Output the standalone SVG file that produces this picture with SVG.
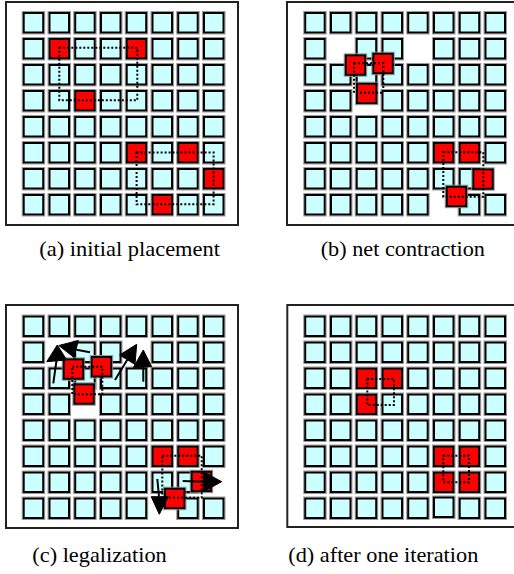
<svg xmlns="http://www.w3.org/2000/svg" xmlns:xlink="http://www.w3.org/1999/xlink" width="514" height="574" viewBox="0 0 514 574">
<style>
.frame{fill:#fff;stroke:#222;stroke-width:2}
.cy{fill:#ccffff}
.rd{fill:#ff0000}
.net{fill:none;stroke:#000;stroke-width:2;stroke-dasharray:2 2}
.shaft{stroke:#000;stroke-width:2;fill:none}
.head{fill:#000;stroke:#000;stroke-width:1;stroke-linejoin:round}
text{font-family:"Liberation Serif","DejaVu Serif",serif;font-size:22px;fill:#000}
</style>
<defs>
<g id="cell">
<rect x="-0.5" y="-0.5" width="22.5" height="22.5" fill="none" stroke="#9a9a9a" stroke-width="1"/>
<rect x="1" y="1" width="19.5" height="19.5" stroke="#000" stroke-width="2"/>
</g>
</defs>
<rect width="514" height="574" fill="#fff"/>

<!-- Panel A -->
<g id="panel-a">
<rect class="frame" x="6" y="2" width="232" height="223"/>
<g id="cells-a" class="cy">
<use xlink:href="#cell" x="22.7" y="12"/><use xlink:href="#cell" x="48.5" y="12"/><use xlink:href="#cell" x="74.2" y="12"/><use xlink:href="#cell" x="100" y="12"/><use xlink:href="#cell" x="125.7" y="12"/><use xlink:href="#cell" x="151.5" y="12"/><use xlink:href="#cell" x="177.2" y="12"/><use xlink:href="#cell" x="203" y="12"/>
<use xlink:href="#cell" x="22.7" y="38"/><use xlink:href="#cell" x="74.2" y="38"/><use xlink:href="#cell" x="100" y="38"/><use xlink:href="#cell" x="151.5" y="38"/><use xlink:href="#cell" x="177.2" y="38"/><use xlink:href="#cell" x="203" y="38"/>
<use xlink:href="#cell" x="22.7" y="64"/><use xlink:href="#cell" x="48.5" y="64"/><use xlink:href="#cell" x="74.2" y="64"/><use xlink:href="#cell" x="100" y="64"/><use xlink:href="#cell" x="125.7" y="64"/><use xlink:href="#cell" x="151.5" y="64"/><use xlink:href="#cell" x="177.2" y="64"/><use xlink:href="#cell" x="203" y="64"/>
<use xlink:href="#cell" x="22.7" y="90"/><use xlink:href="#cell" x="48.5" y="90"/><use xlink:href="#cell" x="100" y="90"/><use xlink:href="#cell" x="125.7" y="90"/><use xlink:href="#cell" x="151.5" y="90"/><use xlink:href="#cell" x="177.2" y="90"/><use xlink:href="#cell" x="203" y="90"/>
<use xlink:href="#cell" x="22.7" y="116"/><use xlink:href="#cell" x="48.5" y="116"/><use xlink:href="#cell" x="74.2" y="116"/><use xlink:href="#cell" x="100" y="116"/><use xlink:href="#cell" x="125.7" y="116"/><use xlink:href="#cell" x="151.5" y="116"/><use xlink:href="#cell" x="177.2" y="116"/><use xlink:href="#cell" x="203" y="116"/>
<use xlink:href="#cell" x="22.7" y="142"/><use xlink:href="#cell" x="48.5" y="142"/><use xlink:href="#cell" x="74.2" y="142"/><use xlink:href="#cell" x="100" y="142"/><use xlink:href="#cell" x="151.5" y="142"/><use xlink:href="#cell" x="203" y="142"/>
<use xlink:href="#cell" x="22.7" y="168"/><use xlink:href="#cell" x="48.5" y="168"/><use xlink:href="#cell" x="74.2" y="168"/><use xlink:href="#cell" x="100" y="168"/><use xlink:href="#cell" x="125.7" y="168"/><use xlink:href="#cell" x="151.5" y="168"/><use xlink:href="#cell" x="177.2" y="168"/>
<use xlink:href="#cell" x="22.7" y="194"/><use xlink:href="#cell" x="48.5" y="194"/><use xlink:href="#cell" x="74.2" y="194"/><use xlink:href="#cell" x="100" y="194"/><use xlink:href="#cell" x="125.7" y="194"/><use xlink:href="#cell" x="177.2" y="194"/><use xlink:href="#cell" x="203" y="194"/>
</g>
<g id="red-a" class="rd">
<use xlink:href="#cell" x="48.5" y="38"/><use xlink:href="#cell" x="125.7" y="38"/><use xlink:href="#cell" x="74.2" y="90"/>
<use xlink:href="#cell" x="125.7" y="142"/><use xlink:href="#cell" x="177.2" y="142"/><use xlink:href="#cell" x="203" y="168"/><use xlink:href="#cell" x="151.5" y="194"/>
</g>
<g id="connectors-a">
<rect class="net" x="59.3" y="47.8" width="78" height="52.5"/>
<rect class="net" x="136.6" y="152.5" width="77" height="51.7"/>
</g>
<text x="39.3" y="256" textLength="180.7" lengthAdjust="spacingAndGlyphs">(a) initial placement</text>
</g>

<!-- Panel B -->
<g id="panel-b" transform="translate(281.5,0)">
<rect class="frame" x="5.5" y="2" width="232" height="223"/>
<g id="cells-b" class="cy">
<use xlink:href="#cell" x="22.7" y="12"/><use xlink:href="#cell" x="48.5" y="12"/><use xlink:href="#cell" x="74.2" y="12"/><use xlink:href="#cell" x="100" y="12"/><use xlink:href="#cell" x="125.7" y="12"/><use xlink:href="#cell" x="151.5" y="12"/><use xlink:href="#cell" x="177.2" y="12"/><use xlink:href="#cell" x="203" y="12"/>
<use xlink:href="#cell" x="22.7" y="38"/><use xlink:href="#cell" x="74.2" y="38"/><use xlink:href="#cell" x="100" y="38"/><use xlink:href="#cell" x="151.5" y="38"/><use xlink:href="#cell" x="177.2" y="38"/><use xlink:href="#cell" x="203" y="38"/>
<use xlink:href="#cell" x="22.7" y="64"/><use xlink:href="#cell" x="48.5" y="64"/><use xlink:href="#cell" x="74.2" y="64"/><use xlink:href="#cell" x="100" y="64"/><use xlink:href="#cell" x="125.7" y="64"/><use xlink:href="#cell" x="151.5" y="64"/><use xlink:href="#cell" x="177.2" y="64"/><use xlink:href="#cell" x="203" y="64"/>
<use xlink:href="#cell" x="22.7" y="90"/><use xlink:href="#cell" x="48.5" y="90"/><use xlink:href="#cell" x="100" y="90"/><use xlink:href="#cell" x="125.7" y="90"/><use xlink:href="#cell" x="151.5" y="90"/><use xlink:href="#cell" x="177.2" y="90"/><use xlink:href="#cell" x="203" y="90"/>
<use xlink:href="#cell" x="22.7" y="116"/><use xlink:href="#cell" x="48.5" y="116"/><use xlink:href="#cell" x="74.2" y="116"/><use xlink:href="#cell" x="100" y="116"/><use xlink:href="#cell" x="125.7" y="116"/><use xlink:href="#cell" x="151.5" y="116"/><use xlink:href="#cell" x="177.2" y="116"/><use xlink:href="#cell" x="203" y="116"/>
<use xlink:href="#cell" x="22.7" y="142"/><use xlink:href="#cell" x="48.5" y="142"/><use xlink:href="#cell" x="74.2" y="142"/><use xlink:href="#cell" x="100" y="142"/><use xlink:href="#cell" x="125.7" y="142"/><use xlink:href="#cell" x="203" y="142"/>
<use xlink:href="#cell" x="22.7" y="168"/><use xlink:href="#cell" x="48.5" y="168"/><use xlink:href="#cell" x="74.2" y="168"/><use xlink:href="#cell" x="100" y="168"/><use xlink:href="#cell" x="125.7" y="168"/><use xlink:href="#cell" x="151.5" y="168"/><use xlink:href="#cell" x="177.2" y="168"/>
<use xlink:href="#cell" x="22.7" y="194"/><use xlink:href="#cell" x="48.5" y="194"/><use xlink:href="#cell" x="74.2" y="194"/><use xlink:href="#cell" x="100" y="194"/><use xlink:href="#cell" x="125.7" y="194"/><use xlink:href="#cell" x="177.2" y="194"/><use xlink:href="#cell" x="203" y="194"/>
</g>
<g id="red-b" class="rd">
<use xlink:href="#cell" x="63.2" y="54.3"/><use xlink:href="#cell" x="90.8" y="52.7"/><use xlink:href="#cell" x="74.5" y="82.7"/>
<use xlink:href="#cell" x="151.5" y="142"/><use xlink:href="#cell" x="177.2" y="142"/><use xlink:href="#cell" x="190.8" y="168.3"/><use xlink:href="#cell" x="164.2" y="185.7"/>
</g>
<g id="connectors-b">
<rect class="net" x="72.5" y="63.3" width="29.3" height="29.4"/>
<rect class="net" x="161.8" y="152.3" width="40" height="44.4"/>
</g>
<text x="39.2" y="256" textLength="164.3" lengthAdjust="spacingAndGlyphs">(b) net contraction</text>
</g>

<!-- Panel C -->
<g id="panel-c" transform="translate(0,303.5)">
<rect class="frame" x="6" y="1.5" width="232" height="223"/>
<g id="cells-c" class="cy">
<use xlink:href="#cell" x="22.7" y="12"/><use xlink:href="#cell" x="48.5" y="12"/><use xlink:href="#cell" x="74.2" y="12"/><use xlink:href="#cell" x="100" y="12"/><use xlink:href="#cell" x="125.7" y="12"/><use xlink:href="#cell" x="151.5" y="12"/><use xlink:href="#cell" x="177.2" y="12"/><use xlink:href="#cell" x="203" y="12"/>
<use xlink:href="#cell" x="22.7" y="38"/><use xlink:href="#cell" x="74.2" y="38"/><use xlink:href="#cell" x="100" y="38"/><use xlink:href="#cell" x="151.5" y="38"/><use xlink:href="#cell" x="177.2" y="38"/><use xlink:href="#cell" x="203" y="38"/>
<use xlink:href="#cell" x="22.7" y="64"/><use xlink:href="#cell" x="48.5" y="64"/><use xlink:href="#cell" x="74.2" y="64"/><use xlink:href="#cell" x="100" y="64"/><use xlink:href="#cell" x="125.7" y="64"/><use xlink:href="#cell" x="151.5" y="64"/><use xlink:href="#cell" x="177.2" y="64"/><use xlink:href="#cell" x="203" y="64"/>
<use xlink:href="#cell" x="22.7" y="90"/><use xlink:href="#cell" x="48.5" y="90"/><use xlink:href="#cell" x="100" y="90"/><use xlink:href="#cell" x="125.7" y="90"/><use xlink:href="#cell" x="151.5" y="90"/><use xlink:href="#cell" x="177.2" y="90"/><use xlink:href="#cell" x="203" y="90"/>
<use xlink:href="#cell" x="22.7" y="116"/><use xlink:href="#cell" x="48.5" y="116"/><use xlink:href="#cell" x="74.2" y="116"/><use xlink:href="#cell" x="100" y="116"/><use xlink:href="#cell" x="125.7" y="116"/><use xlink:href="#cell" x="151.5" y="116"/><use xlink:href="#cell" x="177.2" y="116"/><use xlink:href="#cell" x="203" y="116"/>
<use xlink:href="#cell" x="22.7" y="142"/><use xlink:href="#cell" x="48.5" y="142"/><use xlink:href="#cell" x="74.2" y="142"/><use xlink:href="#cell" x="100" y="142"/><use xlink:href="#cell" x="125.7" y="142"/><use xlink:href="#cell" x="203" y="142"/>
<use xlink:href="#cell" x="22.7" y="168"/><use xlink:href="#cell" x="48.5" y="168"/><use xlink:href="#cell" x="74.2" y="168"/><use xlink:href="#cell" x="100" y="168"/><use xlink:href="#cell" x="125.7" y="168"/><use xlink:href="#cell" x="151.5" y="168"/><use xlink:href="#cell" x="177.2" y="168"/>
<use xlink:href="#cell" x="22.7" y="194"/><use xlink:href="#cell" x="48.5" y="194"/><use xlink:href="#cell" x="74.2" y="194"/><use xlink:href="#cell" x="100" y="194"/><use xlink:href="#cell" x="125.7" y="194"/><use xlink:href="#cell" x="177.2" y="194"/><use xlink:href="#cell" x="203" y="194"/>
</g>
<g id="red-c" class="rd">
<use xlink:href="#cell" x="62.7" y="54.8"/><use xlink:href="#cell" x="90.7" y="52.5"/><use xlink:href="#cell" x="73.3" y="79.8"/>
<use xlink:href="#cell" x="151.5" y="142"/><use xlink:href="#cell" x="177.2" y="142"/><use xlink:href="#cell" x="190.7" y="167.2"/><use xlink:href="#cell" x="164" y="184.2"/>
</g>
<g id="connectors-c">
<rect class="net" x="72.3" y="63.2" width="30" height="27.6"/>
<rect class="net" x="162.3" y="152.2" width="39.4" height="42"/>
<line class="shaft" x1="53.3" y1="79.8" x2="56.5" y2="57"/>
<polygon class="head" points="57.3,41.5 46.7,58.2 66.7,56.5"/>
<line class="shaft" x1="90" y1="48.8" x2="76.5" y2="46.3"/>
<polygon class="head" points="58.8,42 78.3,37 74,54"/>
<line class="shaft" x1="115" y1="76.5" x2="127.3" y2="56.2"/>
<polygon class="head" points="136.7,40.8 119.6,51.5 135,60.9"/>
<line class="shaft" x1="143.3" y1="78.2" x2="143.3" y2="63.5"/>
<polygon class="head" points="143.3,46.5 133.3,64.2 151.7,63.2"/>
<line class="shaft" x1="157.3" y1="175.5" x2="159" y2="193.2"/>
<polygon class="head" points="159.3,210.8 151.2,193.2 168.3,193.2"/>
<line class="shaft" x1="182.7" y1="177.5" x2="203.3" y2="178.2"/>
<polygon class="head" points="221.7,178.2 203.3,168.2 203.3,188.2"/>
</g>
<text x="32.3" y="258.5" textLength="134.4" lengthAdjust="spacingAndGlyphs">(c) legalization</text>
</g>

<!-- Panel D -->
<g id="panel-d" transform="translate(281.5,303.5)">
<rect class="frame" x="5.8" y="1.5" width="232" height="222"/>
<g id="cells-d" class="cy">
<use xlink:href="#cell" x="22.7" y="12"/><use xlink:href="#cell" x="48.5" y="12"/><use xlink:href="#cell" x="74.2" y="12"/><use xlink:href="#cell" x="100" y="12"/><use xlink:href="#cell" x="125.7" y="12"/><use xlink:href="#cell" x="151.5" y="12"/><use xlink:href="#cell" x="177.2" y="12"/><use xlink:href="#cell" x="203" y="12"/>
<use xlink:href="#cell" x="22.7" y="38"/><use xlink:href="#cell" x="48.5" y="38"/><use xlink:href="#cell" x="74.2" y="38"/><use xlink:href="#cell" x="100" y="38"/><use xlink:href="#cell" x="125.7" y="38"/><use xlink:href="#cell" x="151.5" y="38"/><use xlink:href="#cell" x="177.2" y="38"/><use xlink:href="#cell" x="203" y="38"/>
<use xlink:href="#cell" x="22.7" y="64"/><use xlink:href="#cell" x="48.5" y="64"/><use xlink:href="#cell" x="125.7" y="64"/><use xlink:href="#cell" x="151.5" y="64"/><use xlink:href="#cell" x="177.2" y="64"/><use xlink:href="#cell" x="203" y="64"/>
<use xlink:href="#cell" x="22.7" y="90"/><use xlink:href="#cell" x="48.5" y="90"/><use xlink:href="#cell" x="100" y="90"/><use xlink:href="#cell" x="125.7" y="90"/><use xlink:href="#cell" x="151.5" y="90"/><use xlink:href="#cell" x="177.2" y="90"/><use xlink:href="#cell" x="203" y="90"/>
<use xlink:href="#cell" x="22.7" y="116"/><use xlink:href="#cell" x="48.5" y="116"/><use xlink:href="#cell" x="74.2" y="116"/><use xlink:href="#cell" x="100" y="116"/><use xlink:href="#cell" x="125.7" y="116"/><use xlink:href="#cell" x="151.5" y="116"/><use xlink:href="#cell" x="177.2" y="116"/><use xlink:href="#cell" x="203" y="116"/>
<use xlink:href="#cell" x="22.7" y="142"/><use xlink:href="#cell" x="48.5" y="142"/><use xlink:href="#cell" x="74.2" y="142"/><use xlink:href="#cell" x="100" y="142"/><use xlink:href="#cell" x="125.7" y="142"/><use xlink:href="#cell" x="203" y="142"/>
<use xlink:href="#cell" x="22.7" y="168"/><use xlink:href="#cell" x="48.5" y="168"/><use xlink:href="#cell" x="74.2" y="168"/><use xlink:href="#cell" x="100" y="168"/><use xlink:href="#cell" x="125.7" y="168"/><use xlink:href="#cell" x="203" y="168"/>
<use xlink:href="#cell" x="22.7" y="194"/><use xlink:href="#cell" x="48.5" y="194"/><use xlink:href="#cell" x="74.2" y="194"/><use xlink:href="#cell" x="100" y="194"/><use xlink:href="#cell" x="125.7" y="194"/><use xlink:href="#cell" x="151.5" y="193"/><use xlink:href="#cell" x="177.2" y="194"/><use xlink:href="#cell" x="203" y="194"/>
</g>
<g id="red-d" class="rd">
<use xlink:href="#cell" x="74.2" y="64"/><use xlink:href="#cell" x="100" y="64"/><use xlink:href="#cell" x="74.2" y="90"/>
<use xlink:href="#cell" x="151.5" y="142"/><use xlink:href="#cell" x="177.2" y="142"/><use xlink:href="#cell" x="151.5" y="168"/><use xlink:href="#cell" x="177.2" y="168"/>
</g>
<g id="connectors-d">
<rect class="net" x="85.8" y="75.5" width="26.7" height="26"/>
<rect class="net" x="161.8" y="152.2" width="25.7" height="26.6"/>
</g>
<text x="6.8" y="258.5" textLength="190" lengthAdjust="spacingAndGlyphs">(d) after one iteration</text>
</g>
</svg>
